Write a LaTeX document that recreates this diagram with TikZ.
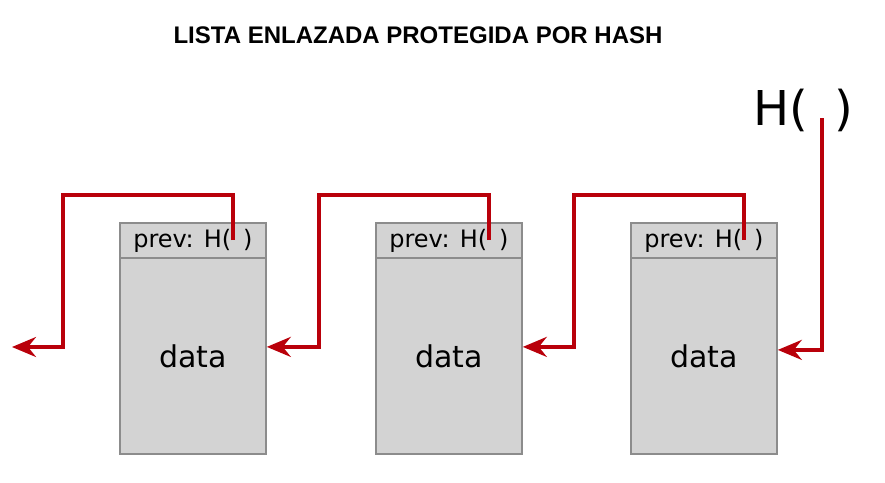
\documentclass[tikz,border=0pt]{standalone}
\usepackage{fontspec}
\setmainfont{DejaVu Sans}
\newfontfamily\titlefont{Liberation Sans}
\usetikzlibrary{arrows.meta, calc, positioning}

\definecolor{boxfill}{RGB}{211,211,211}
\definecolor{boxline}{RGB}{140,140,140}
\definecolor{linkred}{RGB}{185,0,10}

\begin{document}
\begin{tikzpicture}[x=1pt,y=-1pt,
    head/.style={draw=boxline,line width=1.8pt,fill=boxfill,anchor=north west,
        minimum width=146pt,minimum height=35pt,inner sep=0pt,
        font=\fontsize{24}{24}\selectfont},
    body/.style={draw=boxline,line width=1.8pt,fill=boxfill,
        minimum width=146pt,minimum height=196pt,inner sep=0pt,
        font=\fontsize{30}{30}\selectfont},
    link/.style={draw=linkred,line width=3.5pt,
        -{Stealth[length=24pt,width=20pt,inset=8pt]}}]
\useasboundingbox (0,0) rectangle (885,482);

%
\node[font=\titlefont\bfseries\fontsize{24}{24}\selectfont] (title) at (418,35) {LISTA ENLAZADA PROTEGIDA POR HASH};

%
\node[head] (head1) at (119,222) {prev: H(\hspace{12pt})};
\node[body,below=-1.8pt of head1] (body1) {data};
\node[head] (head2) at (375,222) {prev: H(\hspace{12pt})};
\node[body,below=-1.8pt of head2] (body2) {data};
\node[head] (head3) at (630,222) {prev: H(\hspace{12pt})};
\node[body,below=-1.8pt of head3] (body3) {data};

%
\node[font=\fontsize{48}{48}\selectfont] (hash) at (803,110) {H(\hspace{26pt})};
\coordinate (hslot) at (822,118);

%
\coordinate (slot1) at ($(head1.north west)+(114,18)$);
\coordinate (slot2) at ($(head2.north west)+(114,18)$);
\coordinate (slot3) at ($(head3.north west)+(114,18)$);
\coordinate (bend1) at ($(head1.north west)+(-56,-27)$);
\coordinate (bend2) at ($(head2.north west)+(-56,-27)$);
\coordinate (bend3) at ($(head3.north west)+(-56,-27)$);
\coordinate (tail) at (12,347);

%
\draw[link] (slot1) |- (bend1) |- (tail);
\draw[link] (slot2) |- (bend2) |- ([yshift=9pt]body1.east);
\draw[link] (slot3) |- (bend3) |- ([yshift=9pt]body2.east);
\draw[link] (hslot) |- ([yshift=6pt]body3.east);
\end{tikzpicture}
\end{document}
